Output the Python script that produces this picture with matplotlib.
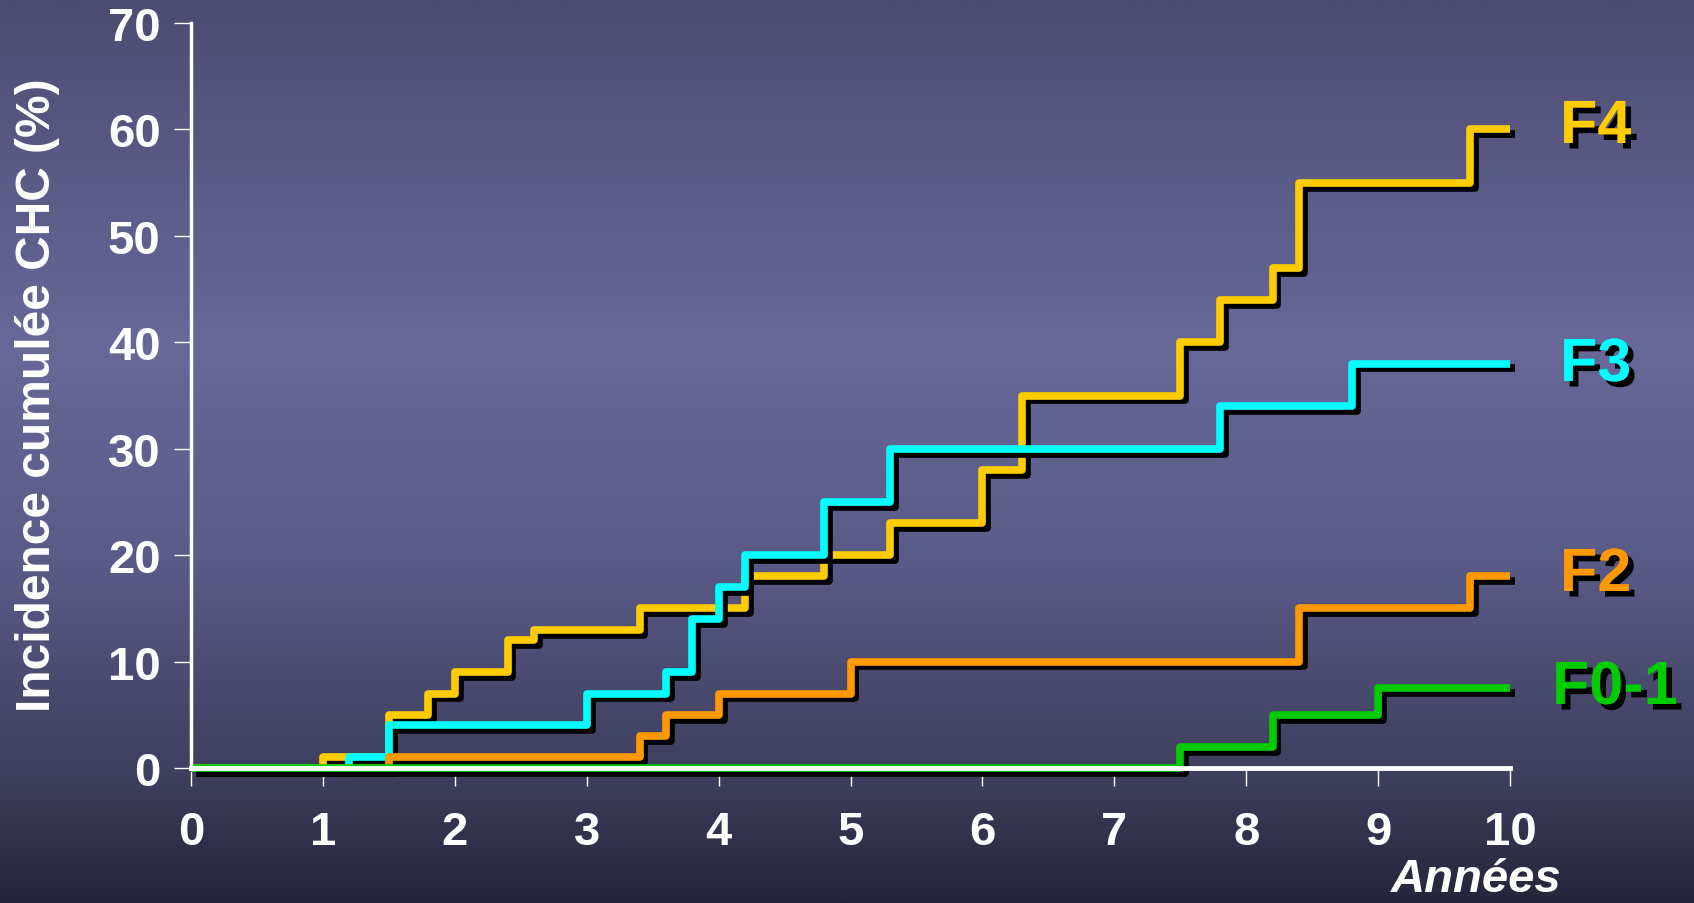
"""
Incidence cumulée du CHC selon le stade de fibrose
"""

import matplotlib
matplotlib.use("Agg")
import matplotlib.pyplot as plt
import matplotlib.patheffects as pe
import numpy as np
from matplotlib.colors import LinearSegmentedColormap

plt.rcParams["font.family"] = ["Liberation Sans", "DejaVu Sans"]

# ─── Données ──────────────────────────────────────────────────────────────────

f4_t = [0, 1.0, 1.5, 1.8, 2.0, 2.4, 2.6, 3.4, 4.2, 4.8, 5.3, 6.0, 6.3, 7.5, 7.8, 8.2, 8.4, 9.7, 10]
f4_v = [0, 1, 5, 7, 9, 12, 13, 15, 18, 20, 23, 28, 35, 40, 44, 47, 55, 60, 60]

f3_t = [0, 1.2, 1.5, 3.0, 3.6, 3.8, 4.0, 4.2, 4.8, 5.3, 7.8, 8.8, 10]
f3_v = [0, 1, 4, 7, 9, 14, 17, 20, 25, 30, 34, 38, 38]

f2_t = [0, 1.5, 3.4, 3.6, 4.0, 5.0, 8.4, 9.7, 10]
f2_v = [0, 1, 3, 5, 7, 10, 15, 18, 18]

f01_t = [0, 7.5, 8.2, 9.0, 10]
f01_v = [0, 2, 5, 7.5, 7.5]

series_names = ["F4", "F3", "F2", "F0-1"]
series_colors = ["#FFCC00", "#00FFFF", "#FF9900", "#00CC00"]

x_ticks = list(range(0, 11))
y_ticks = list(range(0, 71, 10))

# ─── Figure ───────────────────────────────────────────────────────────────────

fig = plt.figure(figsize=(16.94, 9.04), dpi=100)

# fond dégradé vertical
bg_ax = fig.add_axes([0, 0, 1, 1], zorder=-10)
bg_cmap = LinearSegmentedColormap.from_list(
    "bg",
    [(0.0, "#4c4c72"), (0.38, "#686899"), (0.62, "#5b5b88"),
     (0.86, "#3e3e5e"), (1.0, "#25253a")],
)
grad = np.linspace(0, 1, 512).reshape(-1, 1)
bg_ax.imshow(grad, aspect="auto", cmap=bg_cmap, extent=[0, 1, 0, 1], origin="upper")
bg_ax.set_axis_off()

ax = fig.add_axes([0.1128, 0.1493, 0.7786, 0.8241])
ax.set_facecolor("none")

shadow = [pe.SimpleLineShadow(offset=(3.5, -3.5), shadow_color="black", alpha=1.0, rho=1.0),
          pe.Normal()]

all_series = [(f4_t, f4_v), (f3_t, f3_v), (f2_t, f2_v), (f01_t, f01_v)]
for (t, v), color in zip(all_series, series_colors):
    ax.step(t, v, where="post", color=color, lw=5.5,
            solid_capstyle="butt", solid_joinstyle="round",
            path_effects=shadow, clip_on=False)

ax.set_xlim(0, 10)
ax.set_ylim(0, 70)
ax.set_xticks(x_ticks)
ax.set_yticks(y_ticks)

for side in ["top", "right"]:
    ax.spines[side].set_visible(False)
ax.spines["left"].set_color("white")
ax.spines["left"].set_linewidth(2.5)
ax.spines["bottom"].set_color("white")
ax.spines["bottom"].set_linewidth(3.5)

ax.tick_params(axis="both", colors="white", direction="out", width=1,
               labelsize=34)
ax.tick_params(axis="y", length=12, pad=10)
ax.tick_params(axis="x", length=13, pad=17)
for lbl in ax.get_xticklabels() + ax.get_yticklabels():
    lbl.set_fontweight("bold")

fig.text(38 / 1694, 1 - 395 / 904, "Incidence cumulée CHC (%)", rotation=90,
         ha="center", va="center", color="white", fontsize=34.5, fontweight="bold")
fig.text(1476 / 1694, 1 - 880 / 904, "Années", ha="center", va="center",
         color="white", fontsize=34, fontweight="bold", fontstyle="italic")

# ─── Étiquettes des courbes ───────────────────────────────────────────────────

label_x = [1560, 1560, 1560, 1552]
label_y = [122, 360, 570, 683]
text_shadow = [pe.withSimplePatchShadow(offset=(4, -4), shadow_rgbFace="black", alpha=1.0)]
for name, color, lx, ly in zip(series_names, series_colors, label_x, label_y):
    fig.text(lx / 1694, 1 - ly / 904, name, ha="left", va="center_baseline", color=color,
             fontsize=44, fontweight="bold", path_effects=text_shadow)

fig.savefig("out.png", dpi=100)
